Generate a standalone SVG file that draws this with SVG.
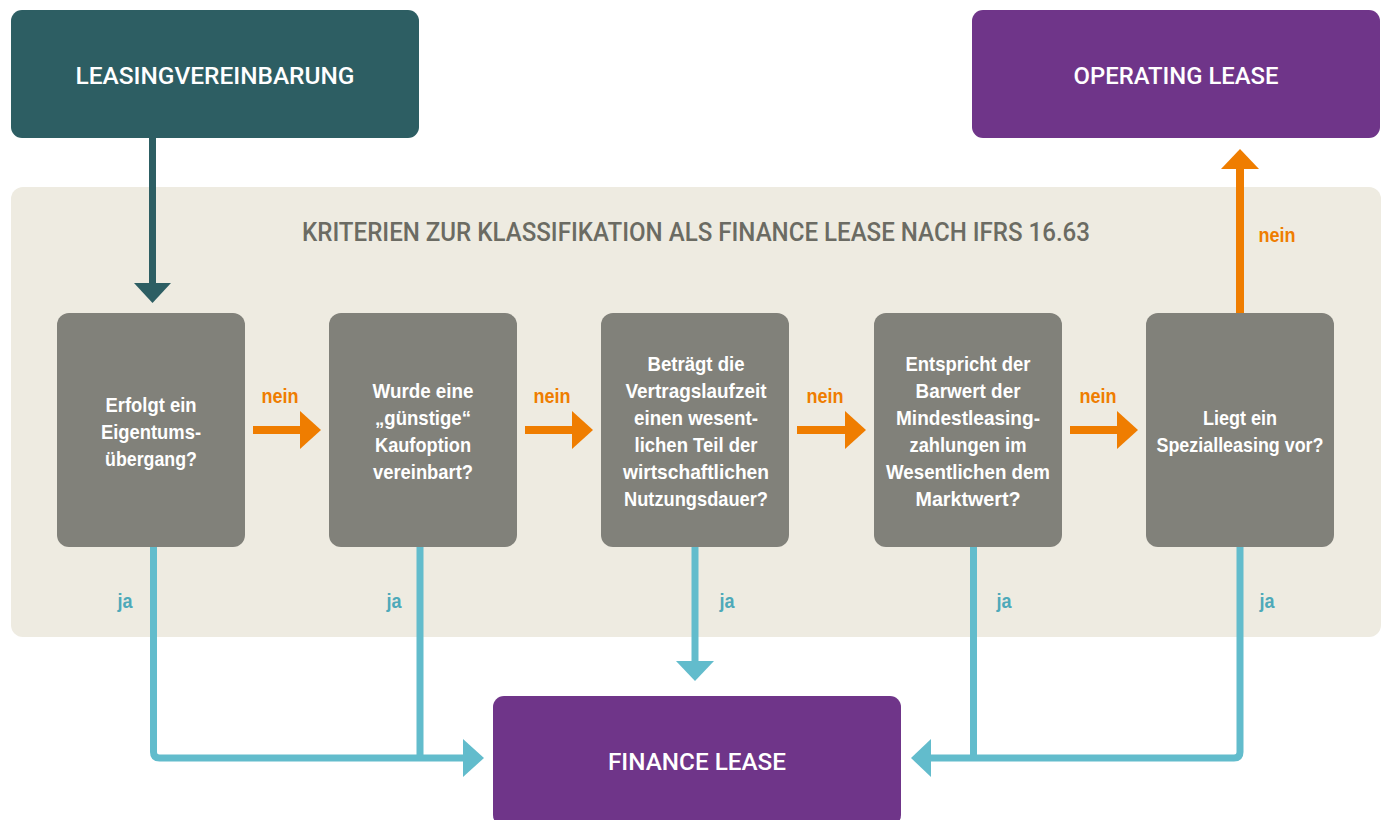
<svg xmlns="http://www.w3.org/2000/svg" width="1381" height="820" viewBox="0 0 1381 820">
<style>
.hdr{font-family:Roboto,"Liberation Sans",sans-serif;font-weight:500;font-size:24px;fill:#ffffff;text-anchor:middle}
.ttl{font-family:Roboto,"Liberation Sans",sans-serif;font-weight:500;font-size:25px;fill:#6b6b63;text-anchor:middle}
.q{font-family:"Liberation Sans",Arial,sans-serif;font-weight:bold;font-size:21px;fill:#ffffff;text-anchor:middle}
.nein{font-family:"Liberation Sans",Arial,sans-serif;font-weight:bold;font-size:21px;fill:#ef7d00;text-anchor:middle}
.ja{font-family:"Liberation Sans",Arial,sans-serif;font-weight:bold;font-size:21px;fill:#4ea9b9;text-anchor:middle}
.box{fill:#81817a}
.teal{fill:none;stroke:#62bccc;stroke-width:7}
.org{fill:none;stroke:#ef7d00;stroke-width:8}
</style>
<rect x="11" y="187" width="1370" height="450" rx="12" fill="#eeebe1"/>
<text class="ttl" x="696" y="241" textLength="788" lengthAdjust="spacingAndGlyphs">KRITERIEN ZUR KLASSIFIKATION ALS FINANCE LEASE NACH IFRS 16.63</text>

<g id="connectors">
  <line x1="152.5" y1="138" x2="152.5" y2="284" stroke="#2d5e63" stroke-width="7"/>
  <polygon points="134,283 171,283 152.5,303" fill="#2d5e63"/>
  <line class="org" x1="253" y1="430" x2="301" y2="430"/>
  <polygon points="300,411 321,430 300,449" fill="#ef7d00"/>
  <line class="org" x1="525" y1="430" x2="573" y2="430"/>
  <polygon points="572,411 593,430 572,449" fill="#ef7d00"/>
  <line class="org" x1="797" y1="430" x2="846" y2="430"/>
  <polygon points="845,411 866,430 845,449" fill="#ef7d00"/>
  <line class="org" x1="1070" y1="430" x2="1118" y2="430"/>
  <polygon points="1117,411 1138,430 1117,449" fill="#ef7d00"/>
  <line class="org" x1="1240" y1="313" x2="1240" y2="168"/>
  <polygon points="1221,169 1259,169 1240,149" fill="#ef7d00"/>
  <path class="teal" d="M153.5,547 V752 Q153.5,758 159.5,758 H464"/>
  <line class="teal" x1="420" y1="547" x2="420" y2="758"/>
  <polygon points="463,739 484,758 463,777" fill="#62bccc"/>
  <line class="teal" x1="695" y1="547" x2="695" y2="662"/>
  <polygon points="676,661 714,661 695,681" fill="#62bccc"/>
  <path class="teal" d="M1240,547 V752 Q1240,758 1234,758 H930"/>
  <line class="teal" x1="973.5" y1="547" x2="973.5" y2="758"/>
  <polygon points="931,739 911,758 931,777" fill="#62bccc"/>
  <text class="nein" x="280" y="403" textLength="37" lengthAdjust="spacingAndGlyphs">nein</text>
  <text class="nein" x="552" y="403" textLength="37" lengthAdjust="spacingAndGlyphs">nein</text>
  <text class="nein" x="825" y="403" textLength="37" lengthAdjust="spacingAndGlyphs">nein</text>
  <text class="nein" x="1098" y="403" textLength="37" lengthAdjust="spacingAndGlyphs">nein</text>
  <text class="nein" x="1277" y="242" textLength="37" lengthAdjust="spacingAndGlyphs">nein</text>
  <text class="ja" x="125" y="608" textLength="15" lengthAdjust="spacingAndGlyphs">ja</text>
  <text class="ja" x="394" y="608" textLength="15" lengthAdjust="spacingAndGlyphs">ja</text>
  <text class="ja" x="727" y="608" textLength="15" lengthAdjust="spacingAndGlyphs">ja</text>
  <text class="ja" x="1004" y="608" textLength="15" lengthAdjust="spacingAndGlyphs">ja</text>
  <text class="ja" x="1267" y="608" textLength="15" lengthAdjust="spacingAndGlyphs">ja</text>
</g>

<g id="leasingvereinbarung">
  <rect x="11" y="10" width="408" height="128" rx="11" fill="#2d5e63"/>
  <text class="hdr" x="215" y="84" textLength="279" lengthAdjust="spacingAndGlyphs">LEASINGVEREINBARUNG</text>
</g>
<g id="operating-lease">
  <rect x="972" y="10" width="408" height="128" rx="11" fill="#6f3589"/>
  <text class="hdr" x="1176" y="84" textLength="205" lengthAdjust="spacingAndGlyphs">OPERATING LEASE</text>
</g>
<g id="finance-lease">
  <rect x="493" y="696" width="408" height="130" rx="11" fill="#6f3589"/>
  <text class="hdr" x="697" y="770" textLength="178" lengthAdjust="spacingAndGlyphs">FINANCE LEASE</text>
</g>

<g id="q1">
  <rect class="box" x="57" y="313" width="188" height="234" rx="12"/>
  <text class="q" x="151" y="412" textLength="91" lengthAdjust="spacingAndGlyphs">Erfolgt ein</text>
  <text class="q" x="151" y="439" textLength="100" lengthAdjust="spacingAndGlyphs">Eigentums-</text>
  <text class="q" x="151" y="466" textLength="92" lengthAdjust="spacingAndGlyphs">übergang?</text>
</g>
<g id="q2">
  <rect class="box" x="329" y="313" width="188" height="234" rx="12"/>
  <text class="q" x="423" y="398" textLength="101" lengthAdjust="spacingAndGlyphs">Wurde eine</text>
  <text class="q" x="423" y="425" textLength="96" lengthAdjust="spacingAndGlyphs">„günstige“</text>
  <text class="q" x="423" y="452" textLength="96" lengthAdjust="spacingAndGlyphs">Kaufoption</text>
  <text class="q" x="423" y="479" textLength="100" lengthAdjust="spacingAndGlyphs">vereinbart?</text>
</g>
<g id="q3">
  <rect class="box" x="601" y="313" width="188" height="234" rx="12"/>
  <text class="q" x="696" y="371" textLength="97" lengthAdjust="spacingAndGlyphs">Beträgt die</text>
  <text class="q" x="696" y="398" textLength="141" lengthAdjust="spacingAndGlyphs">Vertragslaufzeit</text>
  <text class="q" x="696" y="425" textLength="124" lengthAdjust="spacingAndGlyphs">einen wesent-</text>
  <text class="q" x="696" y="452" textLength="123" lengthAdjust="spacingAndGlyphs">lichen Teil der</text>
  <text class="q" x="696" y="479" textLength="146" lengthAdjust="spacingAndGlyphs">wirtschaftlichen</text>
  <text class="q" x="696" y="506" textLength="144" lengthAdjust="spacingAndGlyphs">Nutzungsdauer?</text>
</g>
<g id="q4">
  <rect class="box" x="874" y="313" width="188" height="234" rx="12"/>
  <text class="q" x="968" y="371" textLength="125" lengthAdjust="spacingAndGlyphs">Entspricht der</text>
  <text class="q" x="968" y="398" textLength="105" lengthAdjust="spacingAndGlyphs">Barwert der</text>
  <text class="q" x="968" y="425" textLength="144" lengthAdjust="spacingAndGlyphs">Mindestleasing-</text>
  <text class="q" x="968" y="452" textLength="117" lengthAdjust="spacingAndGlyphs">zahlungen im</text>
  <text class="q" x="968" y="479" textLength="164" lengthAdjust="spacingAndGlyphs">Wesentlichen dem</text>
  <text class="q" x="968" y="506" textLength="105" lengthAdjust="spacingAndGlyphs">Marktwert?</text>
</g>
<g id="q5">
  <rect class="box" x="1146" y="313" width="188" height="234" rx="12"/>
  <text class="q" x="1240" y="425" textLength="74" lengthAdjust="spacingAndGlyphs">Liegt ein</text>
  <text class="q" x="1240" y="452" textLength="167" lengthAdjust="spacingAndGlyphs">Spezialleasing vor?</text>
</g>
</svg>
